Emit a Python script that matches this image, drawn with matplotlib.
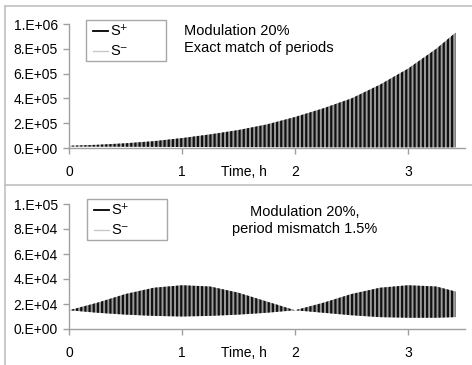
import matplotlib
matplotlib.use("Agg")
import matplotlib.pyplot as plt
from matplotlib.lines import Line2D
from matplotlib.patches import Rectangle

plt.rcParams["font.family"] = ["Liberation Sans", "DejaVu Sans"]
plt.rcParams["hatch.linewidth"] = 1.6

# envelope of the oscillating signals (time in hours)
t_top = [0, 0.25, 0.5, 0.75, 1.0, 1.25, 1.5, 1.75, 2.0, 2.25, 2.5, 2.75, 3.0, 3.25, 3.42]
top_upper = [1.8e4, 2.6e4, 3.8e4, 5.5e4, 8.0e4, 1.1e5, 1.45e5, 1.9e5, 2.5e5,
             3.2e5, 4.0e5, 5.1e5, 6.4e5, 8.0e5, 9.3e5]
top_lower = [1.2e4, 1.1e4, 1.0e4, 0.9e4, 0.8e4, 0.8e4, 0.7e4, 0.7e4, 0.6e4,
             0.6e4, 0.5e4, 0.5e4, 0.5e4, 0.5e4, 0.5e4]

t_bot = [0, 0.25, 0.5, 0.75, 1.0, 1.25, 1.5, 1.75, 2.0, 2.25, 2.5, 2.75, 3.0, 3.25, 3.42]
bot_upper = [1.5e4, 2.1e4, 2.8e4, 3.3e4, 3.5e4, 3.4e4, 2.9e4, 2.2e4, 1.5e4,
             2.1e4, 2.8e4, 3.3e4, 3.5e4, 3.4e4, 3.0e4]
bot_lower = [1.5e4, 1.3e4, 1.15e4, 1.05e4, 1.0e4, 1.05e4, 1.15e4, 1.3e4, 1.5e4,
             1.3e4, 1.1e4, 0.95e4, 0.9e4, 0.9e4, 0.95e4]

top_yticks = [0, 2e5, 4e5, 6e5, 8e5, 1e6]
top_ylabels = ["0.E+00", "2.E+05", "4.E+05", "6.E+05", "8.E+05", "1.E+06"]
bot_yticks = [0, 2e4, 4e4, 6e4, 8e4, 1e5]
bot_ylabels = ["0.E+00", "2.E+04", "4.E+04", "6.E+04", "8.E+04", "1.E+05"]
xticks = [0, 1, 2, 3]
series_names = ["S\u207a", "S\u207b"]

W, H = 472, 365
fig = plt.figure(figsize=(W / 100, H / 100), dpi=100)


def fx(px):
    return px / W


def fy(py):
    return 1 - py / H


def legend_box(x0, y0):
    # Excel-style legend: wide box, short line samples
    fig.add_artist(Rectangle((fx(x0), fy(y0 + 41)), 80 / W, 41 / H,
                             transform=fig.transFigure, facecolor="white",
                             edgecolor="#a8a8a8", lw=1.0))
    colors = ["black", "#c8c8c8"]
    widths = [1.3, 1.0]
    for i, name in enumerate(series_names):
        yy = y0 + 11 + 20 * i
        fig.add_artist(Line2D([fx(x0 + 7), fx(x0 + 22)], [fy(yy), fy(yy)],
                              transform=fig.transFigure, color=colors[i],
                              lw=widths[i]))
        fig.text(fx(x0 + 24), fy(yy), name, ha="left", va="center",
                 fontsize=10.5)


def panel(rect, t, lo, hi, yticks, ylabels):
    ax = fig.add_axes(rect)
    ax.fill_between(t, lo, hi, facecolor="#9c9c9c", edgecolor="#111111",
                    hatch="||||", linewidth=0)
    ax.set_xlim(0, 3.5)
    ax.set_ylim(0, yticks[-1])
    ax.set_yticks(yticks)
    ax.set_yticklabels(ylabels)
    ax.set_xticks(xticks)
    ax.set_xticklabels([str(x) for x in xticks])
    for side in ("top", "right"):
        ax.spines[side].set_visible(False)
    for side in ("left", "bottom"):
        ax.spines[side].set_color("#a0a0a0")
        ax.spines[side].set_linewidth(1.0)
    ax.tick_params(axis="both", direction="out", length=4, width=1,
                   color="#a0a0a0", labelsize=10, labelcolor="black")
    ax.tick_params(axis="y", pad=4)
    ax.tick_params(axis="x", pad=8)
    ax.annotate("Time, h", xy=(1.55, 0), xycoords=("data", "axes fraction"),
                xytext=(0, -12), textcoords="offset points",
                ha="center", va="top", fontsize=10)
    return ax


panel([fx(69), fy(148), fx(395.5), 124 / H], t_top, top_lower, top_upper,
      top_yticks, top_ylabels)
fig.text(fx(184), fy(24), "Modulation 20%\nExact match of periods",
         ha="left", va="top", fontsize=10.5, linespacing=1.25)
legend_box(86, 20)

panel([fx(69), fy(329), fx(395.5), 125 / H], t_bot, bot_lower, bot_upper,
      bot_yticks, bot_ylabels)
fig.text(fx(305), fy(205), "Modulation 20%,\nperiod mismatch 1.5%",
         ha="center", va="top", fontsize=10.5, linespacing=1.25,
         multialignment="center")
legend_box(87, 199)

# gray frame of the two panels
frame = dict(transform=fig.transFigure, color="#c0c0c0", lw=1.2)
fig.add_artist(Line2D([fx(5), fx(5)], [0, fy(6)], **frame))
fig.add_artist(Line2D([fx(5), 1], [fy(6), fy(6)], **frame))
fig.add_artist(Line2D([fx(5), 1], [fy(184.5), fy(184.5)], **frame))

fig.savefig("out.png", dpi=100)
